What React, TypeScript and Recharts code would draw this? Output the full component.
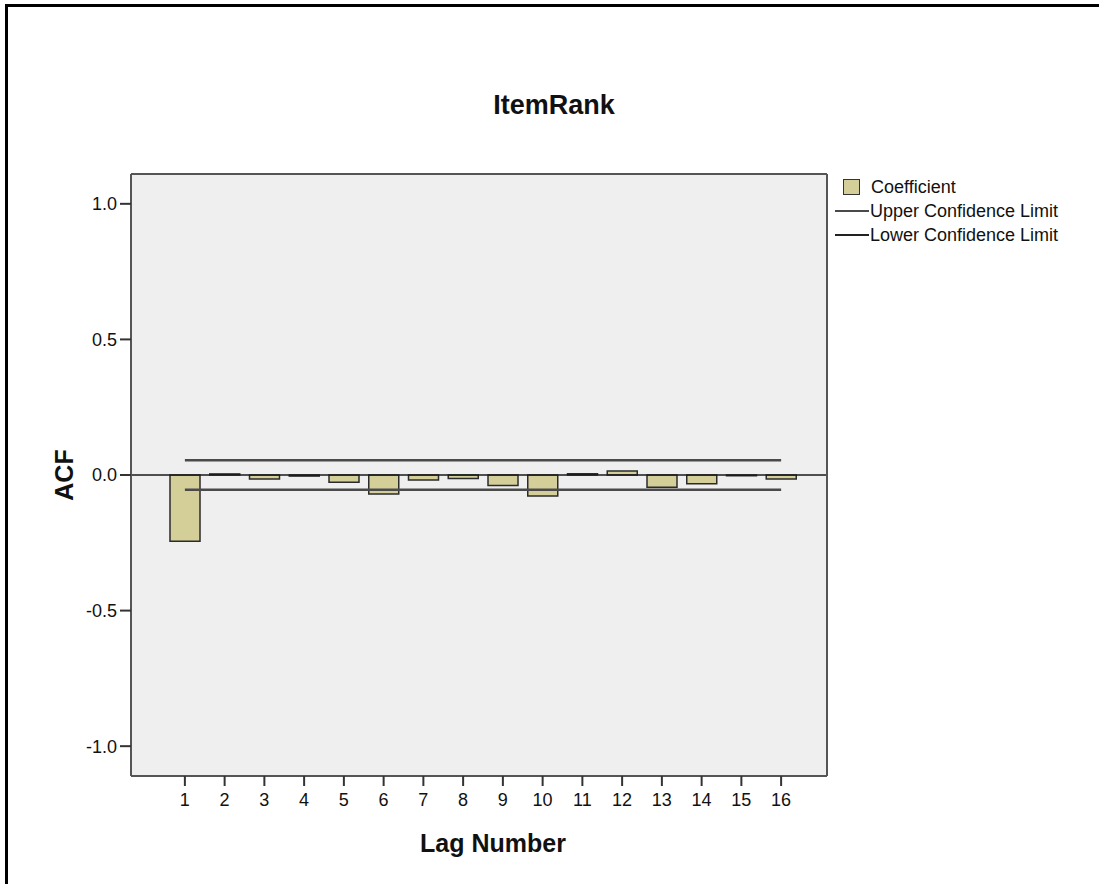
import React from 'react';
import {
  ComposedChart,
  Bar,
  Line,
  XAxis,
  YAxis,
  CartesianGrid,
  ReferenceLine,
} from 'recharts';

const lags = ['1', '2', '3', '4', '5', '6', '7', '8', '9', '10', '11', '12', '13', '14', '15', '16'];
const coefficients = [
  -0.244, 0.004, -0.015, -0.004, -0.027, -0.07, -0.018, -0.013,
  -0.039, -0.077, 0.005, 0.015, -0.045, -0.032, -0.003, -0.015,
];
const upperLimit = [
  0.054, 0.054, 0.054, 0.054, 0.054, 0.054, 0.054, 0.054,
  0.054, 0.054, 0.054, 0.054, 0.054, 0.054, 0.054, 0.054,
];
const lowerLimit = [
  -0.054, -0.054, -0.054, -0.054, -0.054, -0.054, -0.054, -0.054,
  -0.054, -0.054, -0.054, -0.054, -0.054, -0.054, -0.054, -0.054,
];
const yTicks = [-1, -0.5, 0, 0.5, 1];
const yDomain: [number, number] = [-1.11, 1.11];

const data = lags.map((lag, i) => ({
  lag,
  coefficient: coefficients[i],
  upper: upperLimit[i],
  lower: lowerLimit[i],
}));

const FONT = '"Liberation Sans", Arial, Helvetica, sans-serif';
const BAR_FILL = '#D4CF98';
const UPPER_COLOR = '#4a4a4a';
const LOWER_COLOR = '#222222';
const FRAME = '#555';

const LegendBox = () => (
  <div
    style={{
      position: 'absolute',
      left: 835,
      top: 175,
      fontFamily: FONT,
      fontSize: 18,
      color: '#111',
      lineHeight: '24px',
    }}
  >
    <div style={{ display: 'flex', alignItems: 'center', height: 24 }}>
      <div
        style={{
          width: 15,
          height: 14,
          marginLeft: 8,
          marginRight: 11,
          background: BAR_FILL,
          border: '1px solid #333',
        }}
      />
      <span>Coefficient</span>
    </div>
    <div style={{ display: 'flex', alignItems: 'center', height: 24 }}>
      <div style={{ width: 34, height: 2, background: UPPER_COLOR, marginRight: 1 }} />
      <span>Upper Confidence Limit</span>
    </div>
    <div style={{ display: 'flex', alignItems: 'center', height: 24 }}>
      <div style={{ width: 34, height: 2, background: LOWER_COLOR, marginRight: 1 }} />
      <span>Lower Confidence Limit</span>
    </div>
  </div>
);

export default function App() {
  return (
    <div
      style={{
        position: 'relative',
        width: 1099,
        height: 884,
        background: '#fff',
        overflow: 'hidden',
        fontFamily: FONT,
      }}
    >
      <style>{`body{margin:0;}`}</style>
      <div
        style={{
          position: 'absolute',
          left: 5,
          top: 4,
          right: -10,
          bottom: -10,
          borderTop: '3px solid #000',
          borderLeft: '3px solid #000',
        }}
      />
      <div
        style={{
          position: 'absolute',
          left: 0,
          width: 1108,
          top: 88,
          textAlign: 'center',
          fontSize: 27,
          fontWeight: 'bold',
          color: '#111',
          lineHeight: '34px',
        }}
      >
        ItemRank
      </div>
      <div
        style={{
          position: 'absolute',
          left: 293,
          width: 400,
          top: 828,
          textAlign: 'center',
          fontSize: 25,
          fontWeight: 'bold',
          color: '#111',
          lineHeight: '30px',
        }}
      >
        Lag Number
      </div>
      <div
        style={{
          position: 'absolute',
          left: 14,
          width: 100,
          top: 460,
          textAlign: 'center',
          fontSize: 25,
          fontWeight: 'bold',
          color: '#111',
          lineHeight: '30px',
          transform: 'rotate(-90deg)',
        }}
      >
        ACF
      </div>
      <ComposedChart
        width={1099}
        height={884}
        data={data}
        margin={{ top: 174, right: 271, bottom: 48, left: 71 }}
        style={{ position: 'absolute', left: 0, top: 0 }}
      >
        <CartesianGrid fill="#EFEFEF" horizontal={false} vertical={false} />
        <XAxis
          dataKey="lag"
          type="category"
          height={60}
          padding={{ left: 34, right: 26 }}
          tickSize={10}
          tickMargin={7}
          tick={{ fontSize: 18, fill: '#111', fontFamily: FONT }}
          tickLine={{ stroke: '#333', strokeWidth: 2 }}
          axisLine={{ stroke: FRAME, strokeWidth: 2 }}
          interval={0}
        />
        <YAxis
          type="number"
          domain={yDomain}
          ticks={yTicks}
          width={60}
          tickSize={11}
          tickMargin={3}
          tickFormatter={(v: number) => v.toFixed(1)}
          tick={{ fontSize: 18, fill: '#111', fontFamily: FONT }}
          tickLine={{ stroke: '#333', strokeWidth: 2 }}
          axisLine={{ stroke: FRAME, strokeWidth: 2 }}
          allowDataOverflow
        />
        <YAxis
          yAxisId="right"
          type="number"
          orientation="right"
          domain={yDomain}
          ticks={yTicks}
          width={1}
          tick={false}
          tickLine={false}
          axisLine={{ stroke: FRAME, strokeWidth: 2 }}
          allowDataOverflow
        />
        <Line
          yAxisId="right"
          dataKey="upper"
          stroke="none"
          dot={false}
          activeDot={false}
          legendType="none"
          isAnimationActive={false}
        />
        <ReferenceLine y={yDomain[1]} stroke={FRAME} strokeWidth={2} />
        <Bar
          dataKey="coefficient"
          name="Coefficient"
          fill={BAR_FILL}
          stroke="#2b2b2b"
          strokeWidth={1.5}
          barSize={30}
          isAnimationActive={false}
        />
        <ReferenceLine y={0} stroke="#1a1a1a" strokeWidth={1.5} />
        <Line
          dataKey="upper"
          name="Upper Confidence Limit"
          type="linear"
          stroke={UPPER_COLOR}
          strokeWidth={2.5}
          dot={false}
          isAnimationActive={false}
        />
        <Line
          dataKey="lower"
          name="Lower Confidence Limit"
          type="linear"
          stroke={UPPER_COLOR}
          strokeWidth={2.5}
          dot={false}
          isAnimationActive={false}
        />
      </ComposedChart>
      <LegendBox />
    </div>
  );
}
